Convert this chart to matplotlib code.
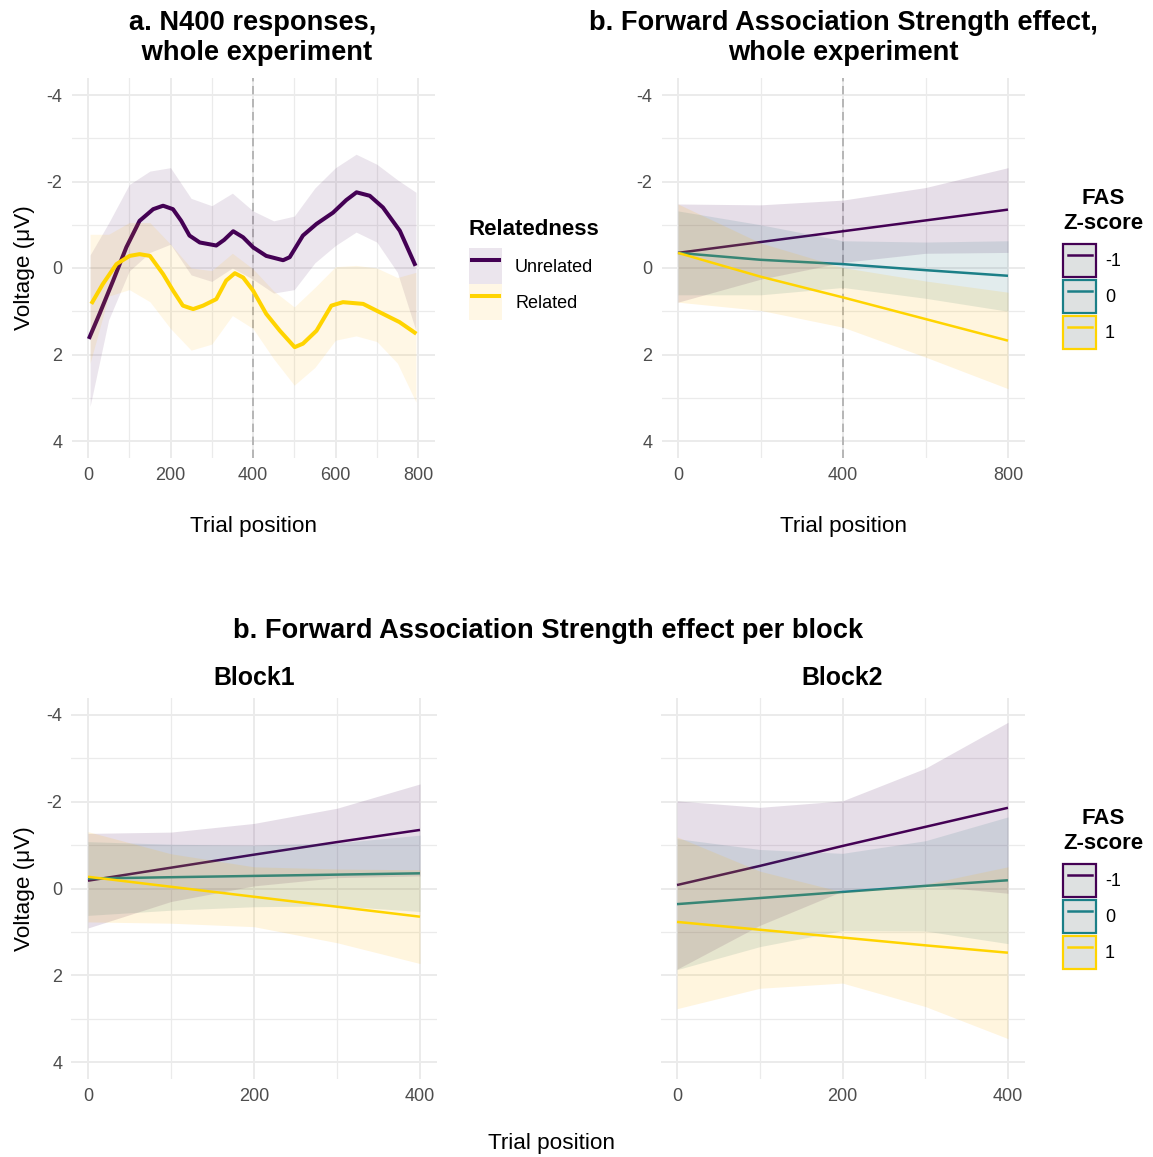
import matplotlib
matplotlib.use('Agg')
import matplotlib.pyplot as plt
from matplotlib.patches import Patch
from matplotlib.lines import Line2D
from matplotlib.legend_handler import HandlerTuple, HandlerLine2D
from matplotlib.colors import to_rgba

plt.rcParams['font.family'] = ['Liberation Sans', 'DejaVu Sans']
plt.rcParams['axes.unicode_minus'] = False

# ---------------- data ----------------
# Panel a: N400 smooths (voltage in microvolts, axis reversed)
rel_levels = ['Unrelated', 'Related']
unrel_x = [2, 28, 61, 93, 125, 158, 182, 206, 226, 246, 271, 311, 330, 352, 376, 400,
           432, 473, 489, 521, 554, 594, 626, 651, 683, 715, 756, 794]
unrel_y = [1.64, 1.06, 0.29, -0.48, -1.09, -1.36, -1.44, -1.36, -1.09, -0.75, -0.59, -0.52,
           -0.65, -0.85, -0.71, -0.48, -0.28, -0.18, -0.25, -0.75, -1.02, -1.28, -1.57,
           -1.75, -1.67, -1.40, -0.86, -0.05]
rel_x = [8, 36, 69, 101, 125, 150, 182, 206, 230, 255, 279, 311, 335, 356, 376, 400,
         432, 465, 501, 521, 554, 590, 618, 667, 715, 755, 796]
rel_y = [0.83, 0.37, -0.09, -0.28, -0.32, -0.28, 0.14, 0.52, 0.87, 0.95, 0.87, 0.72,
         0.29, 0.12, 0.22, 0.52, 1.06, 1.45, 1.83, 1.75, 1.45, 0.87, 0.79, 0.83, 1.06,
         1.25, 1.52]
ribbon_x = [5, 50, 100, 150, 200, 250, 300, 350, 400, 450, 500, 550, 600, 650, 700, 750, 795]
unrel_lo = [-0.30, -1.04, -1.93, -2.24, -2.32, -1.61, -1.44, -1.73, -1.32, -1.09, -1.20,
            -1.85, -2.32, -2.63, -2.40, -2.04, -1.75]
unrel_hi = [3.20, 1.20, 0.07, -0.36, -0.55, 0.16, 0.31, 0.00, 0.26, 0.58, 0.50, -0.12,
            -0.52, -0.83, -0.60, 0.10, 1.45]
rel_lo = [-0.78, -0.78, -1.05, -1.05, -0.55, 0.00, 0.06, -0.34, 0.02, 0.53, 0.90, 0.45,
          -0.03, -0.06, 0.00, 0.22, 0.10]
rel_hi = [2.20, 0.65, 0.50, 0.78, 1.40, 1.90, 1.76, 1.10, 1.40, 2.10, 2.71, 2.30, 1.67,
          1.57, 1.70, 2.20, 3.10]

# Panel b (whole experiment): FAS z-score -1 / 0 / 1
fas_levels = ['-1', '0', '1']
whole_x = [0, 200, 400, 600, 800]
whole_m1_fit = [-0.35, -0.60, -0.85, -1.10, -1.35]
whole_m1_lo = [-1.48, -1.46, -1.57, -1.86, -2.32]
whole_m1_hi = [0.79, 0.26, -0.13, -0.34, -0.36]
whole_0_fit = [-0.35, -0.19, -0.09, 0.05, 0.18]
whole_0_lo = [-1.32, -1.00, -0.63, -0.60, -0.63]
whole_0_hi = [0.62, 0.62, 0.45, 0.70, 1.00]
whole_p1_fit = [-0.35, 0.20, 0.68, 1.18, 1.68]
whole_p1_lo = [-1.48, -0.58, -0.01, 0.30, 0.56]
whole_p1_hi = [0.79, 0.98, 1.37, 2.06, 2.79]

# Per block
block_x = [0, 100, 200, 300, 400]
b1_m1_fit = [-0.18, -0.48, -0.78, -1.07, -1.35]
b1_m1_lo = [-1.27, -1.30, -1.50, -1.85, -2.41]
b1_m1_hi = [0.91, 0.30, -0.06, -0.25, -0.29]
b1_0_fit = [-0.23, -0.26, -0.29, -0.32, -0.35]
b1_0_lo = [-1.08, -1.02, -1.00, -1.05, -1.23]
b1_0_hi = [0.62, 0.50, 0.42, 0.40, 0.53]
b1_p1_fit = [-0.27, -0.04, 0.19, 0.42, 0.65]
b1_p1_lo = [-1.31, -0.80, -0.50, -0.45, -0.43]
b1_p1_hi = [0.77, 0.80, 0.88, 1.25, 1.73]

b2_m1_fit = [-0.08, -0.52, -0.98, -1.42, -1.86]
b2_m1_lo = [-2.02, -1.87, -2.02, -2.77, -3.83]
b2_m1_hi = [1.86, 0.85, 0.06, -0.07, 0.11]
b2_0_fit = [0.36, 0.22, 0.08, -0.06, -0.19]
b2_0_lo = [-1.15, -0.90, -0.81, -1.10, -1.65]
b2_0_hi = [1.87, 1.34, 0.97, 0.98, 1.27]
b2_p1_fit = [0.77, 0.95, 1.13, 1.31, 1.48]
b2_p1_lo = [-1.19, -0.40, 0.08, -0.10, -0.50]
b2_p1_hi = [2.77, 2.30, 2.18, 2.72, 3.46]

# ---------------- style ----------------
PURPLE = '#440154'
TEAL = '#1B7F87'
GOLD = '#FFD400'
fas_colors = [PURPLE, TEAL, GOLD]
fas_fills = [PURPLE, '#236E79', '#FFB600']
rel_colors = [PURPLE, GOLD]
rel_fills = [PURPLE, '#FFB600']
GRID = '#EBEBEB'
TICK_FS = 13
LAB_FS = 16.2
TITLE_FS = 19.6
LEG_TITLE_FS = 16

W, H = 1153, 1157
fig = plt.figure(figsize=(W / 100, H / 100), dpi=100)


def px_rect(left, top, right, bottom):
    return [left / W, 1 - bottom / H, (right - left) / W, (bottom - top) / H]


def style_axes(ax, xmajor, xminor, xlim, show_ylabels=True):
    ax.set_xlim(*xlim)
    ax.set_ylim(4.4, -4.4)
    ax.set_xticks(xmajor)
    ax.set_xticks(xminor, minor=True)
    ax.set_yticks([-4, -2, 0, 2, 4])
    ax.set_yticks([-3, -1, 1, 3], minor=True)
    ax.grid(which='major', color=GRID, lw=1.4)
    ax.grid(which='minor', color=GRID, lw=0.9)
    ax.set_axisbelow(True)
    for s in ax.spines.values():
        s.set_visible(False)
    ax.tick_params(which='both', length=0, labelsize=TICK_FS, labelcolor='#4D4D4D', pad=6.5)
    if not show_ylabels:
        ax.tick_params(axis='y', labelleft=False)


def draw_groups(ax, x, fits, los, his, colors, fills, lw, alpha):
    for i, (f, lo, hi, c, fc) in enumerate(zip(fits, los, his, colors, fills)):
        ax.fill_between(x, lo, hi, color=fc, alpha=alpha, lw=0, zorder=2 + i * 0.1)
        ax.plot(x, f, color=c, lw=lw, zorder=2.05 + i * 0.1, solid_capstyle='butt')


# Panel a
axA = fig.add_axes(px_rect(71.5, 77.7, 434.5, 458.3))
style_axes(axA, [0, 200, 400, 600, 800], [100, 300, 500, 700], (-40, 840))
axA.axvline(400, color='#A8A8A8', lw=1.1, ls=(0, (5.5, 3)), zorder=1.5)
for i, (fx, fy, lo, hi, c, fc) in enumerate(zip([unrel_x, rel_x], [unrel_y, rel_y],
                                                [unrel_lo, rel_lo], [unrel_hi, rel_hi],
                                                rel_colors, rel_fills)):
    axA.fill_between(ribbon_x, lo, hi, color=fc, alpha=0.1, lw=0, zorder=2 + i * 0.1)
    axA.plot(fx, fy, color=c, lw=2.9, zorder=2.05 + i * 0.1, solid_capstyle='butt',
             solid_joinstyle='round')
axA.set_title("a. N400 responses,\n whole experiment", fontsize=TITLE_FS, fontweight='bold',
              pad=13, linespacing=1.19)
axA.set_xlabel('Trial position', fontsize=LAB_FS)
axA.xaxis.set_label_coords(0.5, -0.152)
axA.set_ylabel('Voltage (\u03bcV)', fontsize=LAB_FS)
axA.yaxis.set_label_coords(-0.1, 0.5)

# Panel b (whole)
axB = fig.add_axes(px_rect(661.5, 77.7, 1024.5, 458.3))
style_axes(axB, [0, 400, 800], [200, 600], (-40, 840))
axB.axvline(400, color='#A8A8A8', lw=1.1, ls=(0, (5.5, 3)), zorder=1.5)
draw_groups(axB, whole_x, [whole_m1_fit, whole_0_fit, whole_p1_fit],
            [whole_m1_lo, whole_0_lo, whole_p1_lo], [whole_m1_hi, whole_0_hi, whole_p1_hi],
            fas_colors, fas_fills, 1.8, 0.13)
axB.set_title("b. Forward Association Strength effect,\nwhole experiment", fontsize=TITLE_FS,
              fontweight='bold', pad=13, linespacing=1.19)
axB.set_xlabel('Trial position', fontsize=LAB_FS)
axB.xaxis.set_label_coords(0.5, -0.152)

# Block panels
axC = fig.add_axes(px_rect(71.4, 697.6, 436.6, 1079.4))
style_axes(axC, [0, 200, 400], [100, 300], (-20, 420))
draw_groups(axC, block_x, [b1_m1_fit, b1_0_fit, b1_p1_fit], [b1_m1_lo, b1_0_lo, b1_p1_lo],
            [b1_m1_hi, b1_0_hi, b1_p1_hi], fas_colors, fas_fills, 1.8, 0.13)
axC.set_title('Block1', fontsize=17.9, fontweight='bold', pad=9)
axC.set_ylabel('Voltage (\u03bcV)', fontsize=LAB_FS)
axC.yaxis.set_label_coords(-0.099, 0.5)

axD = fig.add_axes(px_rect(660.5, 697.6, 1024.5, 1079.4))
style_axes(axD, [0, 200, 400], [100, 300], (-20, 420), show_ylabels=False)
draw_groups(axD, block_x, [b2_m1_fit, b2_0_fit, b2_p1_fit], [b2_m1_lo, b2_0_lo, b2_p1_lo],
            [b2_m1_hi, b2_0_hi, b2_p1_hi], fas_colors, fas_fills, 1.8, 0.13)
axD.set_title('Block2', fontsize=17.9, fontweight='bold', pad=9)

fig.text(548 / W, 1 - 631 / H, 'b. Forward Association Strength effect per block',
         fontsize=TITLE_FS, fontweight='bold', ha='center', va='center')
fig.text(552 / W, 1 - 1144 / H, 'Trial position', fontsize=LAB_FS, ha='center', va='center')

# Legends
rel_handles = [(Patch(facecolor=to_rgba(fc, 0.1), edgecolor='none'),
                Line2D([], [], color=c, lw=2.9)) for c, fc in zip(rel_colors, rel_fills)]
leg_rel = fig.legend(rel_handles, rel_levels,
                     handler_map={tuple: HandlerTuple(ndivide=1, pad=0),
                                  Line2D: HandlerLine2D(numpoints=2, marker_pad=0.17)},
                     title='Relatedness', loc='upper left', bbox_to_anchor=(469 / W, 1 - 219 / H),
                     frameon=False, borderpad=0, borderaxespad=0, fontsize=TICK_FS,
                     title_fontproperties={'weight': 'bold', 'size': LEG_TITLE_FS},
                     handlelength=1.83, handleheight=2.69, labelspacing=0.0,
                     handletextpad=0.72, alignment='left')
leg_rel._legend_box.sep = 6


def fas_legend(top_px):
    handles = [(Patch(facecolor='#DEE1E1', edgecolor=c, lw=1.6), Line2D([], [], color=c, lw=1.8))
               for c in fas_colors]
    leg = fig.legend(handles, fas_levels,
                     handler_map={tuple: HandlerTuple(ndivide=1, pad=0),
                                  Line2D: HandlerLine2D(numpoints=2, marker_pad=0.25)},
                     title='FAS\nZ-score', loc='upper left',
                     bbox_to_anchor=(1063 / W, 1 - top_px / H), frameon=False, borderpad=0,
                     borderaxespad=0, fontsize=TICK_FS,
                     title_fontproperties={'weight': 'bold', 'size': LEG_TITLE_FS},
                     handlelength=1.83, handleheight=2.43, labelspacing=0.17,
                     handletextpad=0.5, alignment='left')
    leg.get_title().set_multialignment('center')
    leg.get_title().set_linespacing(1.26)
    leg._legend_box.sep = 7.3
    return leg


fas_legend(188)
fas_legend(808)

fig.savefig('out.png', dpi=100)
